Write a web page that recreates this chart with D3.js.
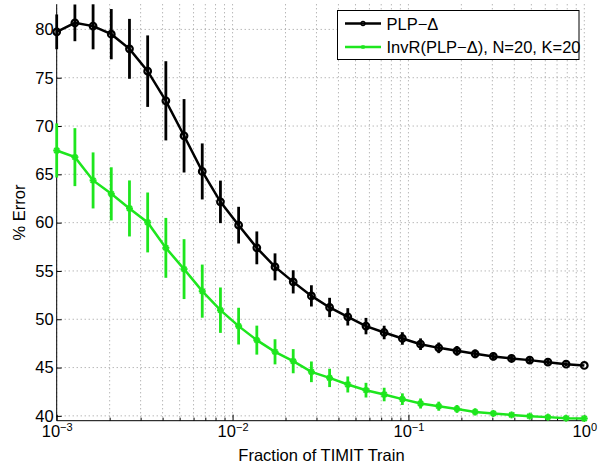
<!DOCTYPE html>
<html>
<head>
<meta charset="utf-8">
<script src="https://cdn.jsdelivr.net/npm/d3@7"></script>
<style>
  body { margin: 0; background: #fff; }
  svg { font-family: "Liberation Sans", Arial, Helvetica, sans-serif; }
</style>
</head>
<body>
<svg></svg>
<script>
// fraction of training data (30 points, log spaced)
let fractions = [0.001, 0.001269, 0.0016103, 0.0020434, 0.0025929, 0.0032903, 0.0041753, 0.0052983,
  0.0067234, 0.0085317, 0.010826, 0.013738, 0.017433, 0.022122, 0.028072, 0.035622, 0.045204,
  0.057362, 0.07279, 0.092367, 0.11721, 0.14874, 0.18874, 0.2395, 0.30392, 0.38566, 0.48939,
  0.62102, 0.78805, 1]

let plpErr = [79.75, 80.68, 80.34, 79.51, 77.99, 75.68, 72.61, 68.99, 65.30, 62.15, 59.74, 57.39,
  55.42, 53.87, 52.42, 51.22, 50.25, 49.29, 48.63, 48.01, 47.42, 47.04, 46.73, 46.42, 46.15,
  45.94, 45.77, 45.56, 45.35, 45.22]
let plpStd = [1.8, 1.9, 2.4, 2.6, 3.1, 3.7, 4.1, 3.8, 2.9, 2.2, 1.9, 1.7, 1.4, 1.2, 1.1, 1.0, 0.9,
  0.85, 0.7, 0.65, 0.6, 0.55, 0.5, 0.45, 0.4, 0.35, 0.3, 0.25, 0.2, 0]

let invrErr = [67.47, 66.78, 64.37, 62.98, 61.47, 60.02, 57.39, 55.19, 52.91, 50.94, 49.29, 47.84,
  46.63, 45.66, 44.56, 43.93, 43.25, 42.66, 42.21, 41.73, 41.28, 41.0, 40.72, 40.41, 40.25,
  40.10, 39.97, 39.87, 39.76, 39.73]
let invrStd = [2.8, 3.0, 2.9, 2.75, 2.9, 3.1, 3.1, 3.1, 2.75, 2.35, 1.9, 1.5, 1.3, 1.25, 1.07,
  0.95, 0.83, 0.76, 0.7, 0.6, 0.52, 0.47, 0.4, 0.35, 0.3, 0.25, 0.2, 0.15, 0.1, 0]

let seriesNames = ['PLP\u2212\u0394', 'InvR(PLP\u2212\u0394), N=20, K=20']
let yTicks = [40, 45, 50, 55, 60, 65, 70, 75, 80]
let xMajor = [0.001, 0.01, 0.1, 1]
let xExp = ['\u22123', '\u22122', '\u22121', '0']

let width = 607
let height = 464
let padL = 56.7, padR = 584.3, padT = 4.3, padB = 420.7
let green = '#1ee61e'
let fs = 16.5

let svg = d3.select('svg').attr('width', width).attr('height', height)

let x = d3.scaleLog().domain([0.001, 1]).range([padL, padR])
let y = d3.scaleLinear().domain([39.5, 82.6]).range([padB, padT])

let xMinor = []
xMajor.slice(0, 3).forEach(d => {
  for (let k = 2; k <= 9; k++) xMinor.push(d * k)
})

// grid
let grid = svg.append('g')
grid.selectAll('line.vx')
    .data(xMajor.concat(xMinor))
    .enter().append('line')
    .attr('x1', d => x(d)).attr('x2', d => x(d))
    .attr('y1', padT).attr('y2', padB)
grid.selectAll('line.hy')
    .data(yTicks)
    .enter().append('line')
    .attr('x1', padL).attr('x2', padR)
    .attr('y1', d => y(d)).attr('y2', d => y(d))
grid.selectAll('line')
    .attr('stroke', '#999')
    .attr('stroke-width', 1)
    .attr('stroke-dasharray', '1,3')

// axes
let yAxis = d3.axisLeft(y).tickValues(yTicks).tickSize(-5).tickPadding(3)
let gy = svg.append('g')
    .attr('transform', 'translate(' + padL + ',0)')
    .call(yAxis)
gy.select('.domain').attr('d', 'M0,' + padT + 'V' + padB)
gy.selectAll('text').attr('font-size', fs).attr('fill', '#000')
    .attr('font-family', '"Liberation Sans", Arial, sans-serif')

let gxMinor = svg.append('g')
    .attr('transform', 'translate(0,' + padB + ')')
    .call(d3.axisBottom(x).tickValues(xMinor).tickSize(-3).tickFormat(''))
gxMinor.select('.domain').remove()

let gx = svg.append('g')
    .attr('transform', 'translate(0,' + padB + ')')
    .call(d3.axisBottom(x).tickValues(xMajor).tickSize(-6).tickFormat(''))
gx.select('.domain').attr('d', 'M' + padL + ',0H' + padR)

gx.selectAll('.tick').each(function (d, i) {
  let t = d3.select(this).append('text')
      .attr('fill', '#000')
      .attr('text-anchor', 'middle')
      .attr('y', 16.5)
      .attr('font-family', '"Liberation Sans", Arial, sans-serif')
  t.append('tspan').attr('font-size', fs).text('10')
  t.append('tspan').attr('font-size', 11).attr('dy', -6.5).text(xExp[i])
})
svg.selectAll('.tick line, .domain').attr('stroke', '#000')

svg.append('text')
   .attr('x', (padL + padR) / 2 + 1)
   .attr('y', 461)
   .attr('text-anchor', 'middle')
   .attr('font-size', fs)
   .text('Fraction of TIMIT Train')

svg.append('text')
   .attr('transform', 'translate(25,' + ((padT + padB) / 2) + ') rotate(-90)')
   .attr('text-anchor', 'middle')
   .attr('font-size', fs)
   .text('% Error')

// series
let drawSeries = (vals, std, color, marker) => {
  let g = svg.append('g')
  let pts = fractions.map((f, i) => ({f: f, v: vals[i], s: std[i]}))

  g.append('path')
   .datum(pts)
   .attr('fill', 'none')
   .attr('stroke', color)
   .attr('stroke-width', 2.5)
   .attr('d', d3.line().x(d => x(d.f)).y(d => y(d.v)))

  g.selectAll('line.err')
   .data(pts.filter(d => d.s > 0))
   .enter().append('line')
   .attr('x1', d => x(d.f)).attr('x2', d => x(d.f))
   .attr('y1', d => Math.max(padT, y(d.v + d.s))).attr('y2', d => y(d.v - d.s))
   .attr('stroke', color)
   .attr('stroke-width', 2.8)

  pts.forEach(d => marker(g, x(d.f), y(d.v), color, 1))
}

let circleMarker = (g, cx, cy, color, s) => {
  g.append('circle')
   .attr('cx', cx).attr('cy', cy).attr('r', 3.3 * s)
   .attr('fill', 'none').attr('stroke', color).attr('stroke-width', 2.2 * s)
}
let starMarker = (g, cx, cy, color, s) => {
  let r = 3.5 * s
  let segs = [[-r, 0, r, 0], [0, -r, 0, r], [-r * 0.7, -r * 0.7, r * 0.7, r * 0.7], [-r * 0.7, r * 0.7, r * 0.7, -r * 0.7]]
  segs.forEach(p => {
    g.append('line')
     .attr('x1', cx + p[0]).attr('y1', cy + p[1])
     .attr('x2', cx + p[2]).attr('y2', cy + p[3])
     .attr('stroke', color).attr('stroke-width', 2 * s)
  })
}

drawSeries(plpErr, plpStd, '#000', circleMarker)
drawSeries(invrErr, invrStd, green, starMarker)

// legend
let lg = svg.append('g')
lg.append('rect')
  .attr('x', 337.5).attr('y', 10.5).attr('width', 241.5).attr('height', 49)
  .attr('fill', '#fff').attr('stroke', '#000').attr('stroke-width', 1)
let rows = [{c: '#000', m: circleMarker, yy: 23.5}, {c: green, m: starMarker, yy: 47}]
rows.forEach((r, i) => {
  lg.append('line')
    .attr('x1', 345).attr('x2', 381).attr('y1', r.yy).attr('y2', r.yy)
    .attr('stroke', r.c).attr('stroke-width', 2.5)
  r.m(lg, 363, r.yy, r.c, 0.6)
  lg.append('text')
    .attr('x', 386.5).attr('y', r.yy + 6)
    .attr('font-size', 16.5)
    .text(seriesNames[i])
})
</script>
</body>
</html>
